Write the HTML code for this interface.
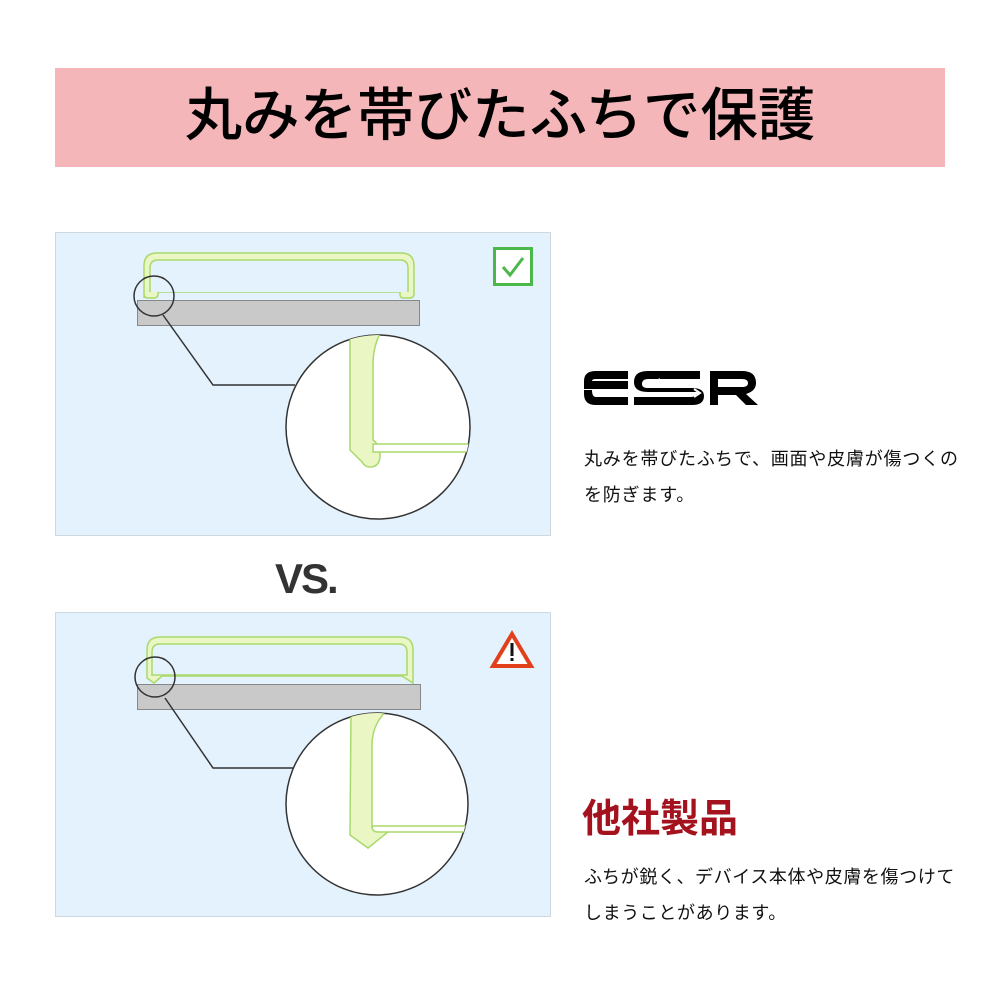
<!DOCTYPE html>
<html><head><meta charset="utf-8"><style>
body{margin:0;width:1000px;height:1000px;background:#fff;position:relative;overflow:hidden;font-family:"Liberation Sans","Noto Sans CJK JP",sans-serif}
.abs{position:absolute;white-space:nowrap}
</style></head><body>
<div class="abs" style="left:55px;top:68px;width:890px;height:99px;background:#f5b6b9"></div>
<div class="abs" style="left:55px;top:81px;width:890px;text-align:center;font-size:57.5px;line-height:70px;color:#000;font-weight:500">丸みを帯びたふちで保護</div>

<svg class="abs" style="left:0;top:0" width="1000" height="1000">
<defs>
<clipPath id="c1"><circle cx="378" cy="427" r="92"/></clipPath>
<clipPath id="c2"><circle cx="377" cy="804" r="91"/></clipPath>
</defs>
<rect x="55.5" y="232.5" width="495" height="303" fill="#e3f2fc" stroke="#cfd8de"/>
<path d="M144 298 V266 Q144 253 157 253 H401 Q414 253 414 266 V294 Q414 298 409 298 H403 Q400 298 400 294 L400 292 H158 L158 294 Q158 298 154 298 H148 Q144 298 144 294Z" fill="#eaf7c4" stroke="#a9d96c" stroke-width="1.5"/>
<path d="M150 292 V268 Q150 260 158 260 H400 Q408 260 408 268 V292" fill="#e3f2fc" stroke="#a9d96c" stroke-width="1.5"/>
<rect x="137.5" y="300.5" width="282" height="25" fill="#c9c9c9" stroke="#888"/>
<circle cx="154" cy="296" r="20" fill="none" stroke="#333" stroke-width="1.5"/>
<polyline points="163,315 213,385 295,385" fill="none" stroke="#333" stroke-width="1.5"/>
<circle cx="378" cy="427" r="92" fill="#fff" stroke="#333" stroke-width="1.5"/>
<g clip-path="url(#c1)">
<path d="M350 330 H382 Q373 345 373 365 V440 Q380 445 380 455 Q380 467 370 467 Q365 467 362 462 L350 450Z" fill="#eaf7c4" stroke="#a9d96c" stroke-width="1.5"/>
<rect x="373" y="444" width="110" height="8" fill="#fff" stroke="#a9d96c" stroke-width="1.5"/>
</g>
<rect x="494.5" y="248.5" width="37" height="36" fill="#fff" stroke="#4cb84c" stroke-width="3"/>
<polyline points="503,267 510,275 523,258" fill="none" stroke="#4cb84c" stroke-width="3"/>

<rect x="55.5" y="612.5" width="495" height="304" fill="#e3f2fc" stroke="#cfd8de"/>
<path d="M147 678 V650 Q147 637 160 637 H400 Q413 637 413 650 V683 L402 676 H162 L154 683 L147 678Z" fill="#eaf7c4" stroke="#a9d96c" stroke-width="1.5"/>
<path d="M152 675 V652 Q152 644 160 644 H399 Q407 644 407 652 V675 Z" fill="#e3f2fc" stroke="#a9d96c" stroke-width="1.5"/>
<rect x="137.5" y="684.5" width="283" height="25" fill="#c9c9c9" stroke="#888"/>
<circle cx="155" cy="677" r="20" fill="none" stroke="#333" stroke-width="1.5"/>
<polyline points="165,698 213,768 295,768" fill="none" stroke="#333" stroke-width="1.5"/>
<circle cx="377" cy="804" r="91" fill="#fff" stroke="#333" stroke-width="1.5"/>
<g clip-path="url(#c2)">
<path d="M351 710 H387 Q372 725 372 745 V828 L388 832 L368 848 L350 835Z" fill="#eaf7c4" stroke="#a9d96c" stroke-width="1.5"/>
<path d="M372 826 Q372 832 378 832 H480 V826 H372Z" fill="#fff" stroke="#a9d96c" stroke-width="1.5"/>
</g>
<polygon points="512,634 531,666 493,666" fill="#fff" stroke="#e2401c" stroke-width="4" stroke-linejoin="miter"/>
<rect x="510.5" y="643" width="3" height="13" fill="#111"/>
<rect x="510.5" y="658" width="3" height="3" fill="#111"/>

<g fill="#000">
<path d="M584 381 Q584 371 596 371 H628 V379 H596 Q592 379 592 381Z"/>
<rect x="584" y="381" width="44" height="8"/>
<path d="M584 390 H592 Q592 397 596 397 H628 V405 H596 Q584 405 584 394Z"/>
<path d="M640 371 H700 V379 H648 Q642 379 642 384 Q642 388 648 388 H692 Q704 388 704 396 Q704 405 692 405 H634 V397 H690 Q696 397 696 394 Q696 392 690 392 H648 Q634 392 634 382 Q634 371 648 371Z"/>
<path d="M710 371 H742 Q756 371 756 383 Q756 391 746 394 L758 405 H746 L736 395 H718 V405 H710Z M718 379 V387 H742 Q748 387 748 383 Q748 379 742 379Z"/>
</g>
<polyline points="654,383 676,383" stroke="#fff" stroke-width="2"/>
<polyline points="660,379 654,383 660,387" fill="none" stroke="#fff" stroke-width="2"/>
<polyline points="610,393 700,393" stroke="#fff" stroke-width="2"/>
<polyline points="694,389 700,393 694,397" fill="none" stroke="#fff" stroke-width="2"/>
</svg>

<div class="abs" style="left:275px;top:556px;font-size:42px;font-weight:bold;color:#333;letter-spacing:-2px;line-height:46px">VS.</div>

<div class="abs" style="left:584px;top:441px;font-size:18px;letter-spacing:0.8px;line-height:36px;color:#111">丸みを帯びたふちで、画面や皮膚が傷つくの<br>を防ぎます。</div>

<div class="abs" style="left:582px;top:798px;font-size:39px;font-weight:bold;color:#a3121d;line-height:44px">他社製品</div>
<div class="abs" style="left:584px;top:859px;font-size:18px;letter-spacing:0.6px;line-height:36px;color:#111">ふちが鋭く、デバイス本体や皮膚を傷つけて<br>しまうことがあります。</div>
</body></html>
